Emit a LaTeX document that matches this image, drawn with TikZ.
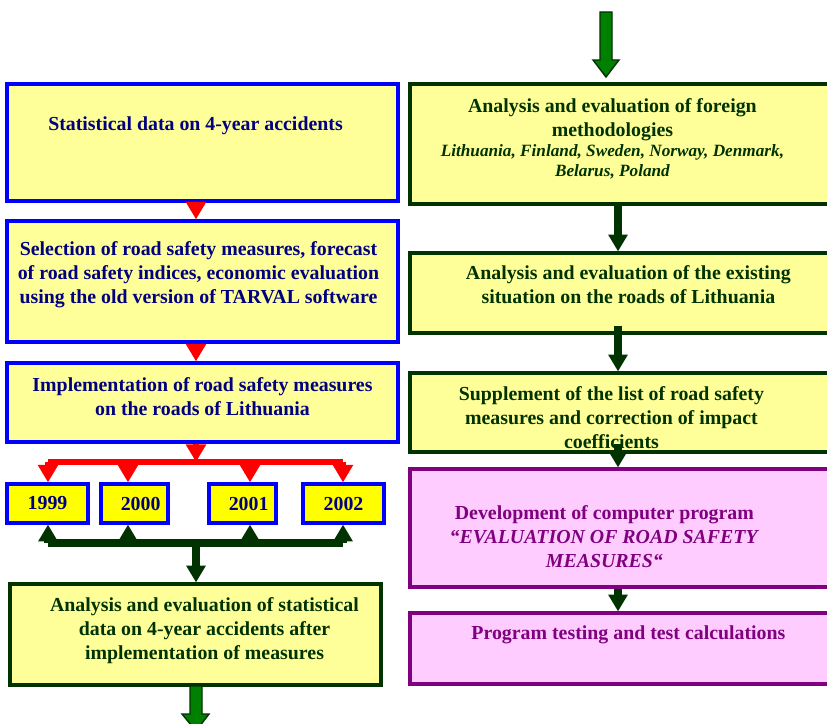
\documentclass[tikz,border=0pt]{standalone}
\usepackage{fontspec}
\setmainfont{Liberation Serif}
\usetikzlibrary{positioning, calc, arrows.meta, fit}

\definecolor{boxblue}{RGB}{0,0,255}
\definecolor{navytxt}{RGB}{0,0,128}
\definecolor{paleyel}{RGB}{255,255,153}
\definecolor{yrfill}{RGB}{255,255,0}
\definecolor{dkgreen}{RGB}{0,51,0}
\definecolor{arrgreen}{RGB}{0,128,0}
\definecolor{pinkfill}{RGB}{255,204,255}
\definecolor{purp}{RGB}{128,0,128}

\newcommand{\cntry}[1]{{\itshape\fontsize{9.8}{11.3}\selectfont #1}}

\tikzset{
    bluebox/.style={draw=boxblue, fill=paleyel, line width=1.8pt, inner sep=0pt, fit={#1}},
    yrbox/.style={draw=boxblue, fill=yrfill, line width=1.8pt, inner sep=0pt,
        minimum height=0.78cm, text=navytxt, font=\bfseries\fontsize{11.3}{13.6}\selectfont},
    greenbox/.style={draw=dkgreen, fill=paleyel, line width=1.8pt, inner sep=0pt, fit={#1}},
    pinkbox/.style={draw=purp, fill=pinkfill, line width=1.8pt, inner sep=0pt, fit={#1}},
    maintxt/.style={inner sep=0pt, align=center, anchor=north, font=\bfseries\fontsize{11.3}{13.6}\selectfont},
    navy/.style={maintxt, text=navytxt},
    greentxt/.style={maintxt, text=dkgreen},
    purptxt/.style={maintxt, text=purp},
    redarr/.style={draw=red, line width=3pt, -{Triangle[length=10pt,width=11pt]}},
    redbar/.style={draw=red, line width=3.4pt},
    grarr/.style={draw=dkgreen, line width=4pt, -{Triangle[length=9.5pt,width=10.5pt]}},
    grbar/.style={draw=dkgreen, line width=4pt},
    bigarr/.style={draw=dkgreen, fill=arrgreen, line width=0.8pt},
}

\begin{document}
\begin{tikzpicture}[x=0.02cm, y=-0.02cm]

    \clip (0,0) rectangle (827,723);

    % ---------------------------------------------------
    % Left column
    % ---------------------------------------------------
    \node[bluebox={(7,84) (398,201)}] (L1) {};
    \node[bluebox={(7,221) (398,342)}] (L2) {};
    \node[bluebox={(7,363) (398,442)}] (L3) {};

    \node[yrbox, minimum width=1.62cm] (Y1999) at (47.5,503.5) {1999};
    \node[yrbox, minimum width=1.34cm] (Y2000) at (134.5,503.5) {\hspace*{7pt}2000};
    \node[yrbox, minimum width=1.34cm] (Y2001) at (242.5,503.5) {\hspace*{7pt}2001};
    \node[yrbox, minimum width=1.62cm] (Y2002) at (343.5,503.5) {2002};

    \node[greenbox={(10,584) (381,685)}] (L4) {};

    \node[navy] (L1t) at ($(L1.north)+(-7,34)$) {Statistical data on 4-year accidents};
    \node[navy] (L2t) at ($(L2.north)+(-4,22)$)
        {Selection of road safety measures, forecast\\of road safety indices, economic evaluation\\using the old version of TARVAL software};
    \node[navy] (L3t) at ($(L3.north)+(0,16)$)
        {Implementation of road safety measures\\on the roads of Lithuania};
    \node[greentxt] (L4t) at ($(L4.north)+(9,15)$)
        {Analysis and evaluation of statistical\\data on 4-year accidents after\\implementation of measures};

    % ---------------------------------------------------
    % Right column
    % ---------------------------------------------------
    \node[greenbox={(410,84) (840,204)}] (R1) {};
    \node[greenbox={(410,253) (840,333)}] (R2) {};
    \node[greenbox={(410,373) (840,452)}] (R3) {};
    \node[pinkbox={(410,469) (840,587)}] (R4) {};
    \node[pinkbox={(410,613) (840,684)}] (R5) {};

    \node[greentxt] (R1t) at ($(R1.north west)+(204,16)$)
        {Analysis and evaluation of foreign\\methodologies\\[-2.3pt]
         \cntry{Lithuania, Finland, Sweden, Norway, Denmark,}\\[-2.3pt]\cntry{Belarus, Poland}};
    \node[greentxt] (R2t) at ($(R2.north west)+(220,14)$)
        {Analysis and evaluation of the existing\\situation on the roads of Lithuania};
    \node[greentxt] (R3t) at ($(R3.north west)+(203,15)$)
        {Supplement of the list of road safety\\measures and correction of impact\\coefficients};
    \node[purptxt] (R4t) at ($(R4.north west)+(196,38)$)
        {Development of computer program\\\textit{“EVALUATION OF ROAD SAFETY}\\\textit{MEASURES“}};
    \node[purptxt] (R5t) at ($(R5.north west)+(220,14)$)
        {Program testing and test calculations};

    % ---------------------------------------------------
    % Connectors
    % ---------------------------------------------------
    \coordinate (lc) at (196,0);
    \coordinate (rc) at (618,0);
    \coordinate (rbar) at (196,462);
    \coordinate (gbar) at (196,543);

    \draw[redarr] (L1.south -| lc) -- (L2.north -| lc);
    \draw[redarr] (L2.south -| lc) -- (L3.north -| lc);

    \coordinate (k1999) at (48,0);
    \coordinate (k2000) at (128,0);
    \coordinate (k2001) at (250,0);
    \coordinate (k2002) at (343,0);
    \draw[redbar] (k1999 |- rbar) -- (k2002 |- rbar);
    \draw[grbar] (k1999 |- gbar) -- (k2002 |- gbar);
    \foreach \yr in {1999,2000,2001,2002} {
        \draw[redarr] (k\yr |- rbar) -- (k\yr |- Y\yr.north);
        \draw[grarr] (k\yr |- gbar) -- (k\yr |- Y\yr.south);
    }
    \draw[redarr] (L3.south -| lc) -- (rbar);
    \draw[grarr] (gbar) -- (L4.north -| lc);

    \draw[grarr] (R1.south -| rc) -- (R2.north -| rc);
    \draw[grarr] ($(R2.south -| rc)+(0,-9)$) -- (R3.north -| rc);
    \draw[grarr] ($(R3.south -| rc)+(0,-10)$) -- (R4.north -| rc);
    \draw[grarr] (R4.south -| rc) -- (R5.north -| rc);

    % big green arrows (in / out)
    \draw[bigarr] (600,12) -- (612,12) -- (612,60) -- (619,60) -- (606,77)
        -- (593,60) -- (600,60) -- cycle;
    \draw[bigarr] (190,686) -- (202,686) -- (202,714) -- (209,714) -- (196,731)
        -- (182,714) -- (190,714) -- cycle;

\end{tikzpicture}
\end{document}
